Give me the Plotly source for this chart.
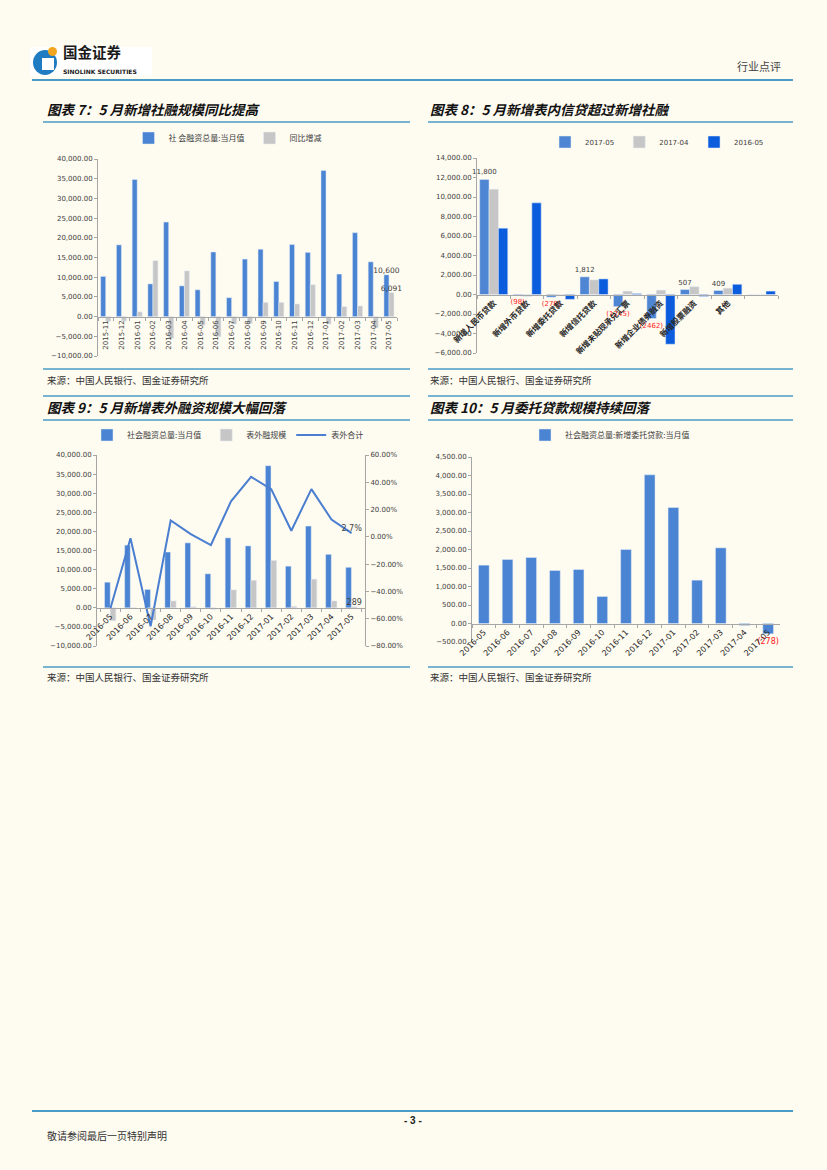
import plotly.graph_objects as go

W, H = 827, 1170


def fx(px):
    return px / W


def fy(py):
    return 1 - py / H


# ---------------- data ----------------
# Chart 7
c7_months = ["2015-11", "2015-12", "2016-01", "2016-02", "2016-03", "2016-04", "2016-05",
             "2016-06", "2016-07", "2016-08", "2016-09", "2016-10", "2016-11", "2016-12",
             "2017-01", "2017-02", "2017-03", "2017-04", "2017-05"]
c7_tsf = [10200, 18200, 34800, 8300, 24000, 7800, 6800, 16400, 4800, 14600, 17100, 8900,
          18300, 16300, 37100, 10800, 21300, 13900, 10600]
c7_yoy = [-1200, -1100, 1200, 14200, -5500, 11600, -2200, -5100, -1900, -1700, 3600, 3600,
          3200, 8100, -1900, 2500, 2700, -2800, 6091]
c7_names = ["社 会融资总量:当月值", "同比增减"]

# Chart 8
c8_cats = ["新增人民币贷款", "新增外币贷款", "新增委托贷款", "新增信托贷款", "新增未贴现承兑汇票",
           "新增企业债券融资", "新增股票融资", "其他", "其他项"]
c8_ticktext = ["新增人民币贷款", "新增外币贷款", "新增委托贷款", "新增信托贷款", "新增未贴现承兑汇票",
               "新增企业债券融资", "新增股票融资", "其他", ""]
c8_series = ["2017-05", "2017-04", "2016-05"]
c8_2017_05 = [11800, -98, -278, 1812, -1245, -2462, 507, 409, 0]
c8_2017_04 = [10800, -200, -54, 1500, 350, 450, 800, 650, 0]
c8_2016_05 = [6800, 9400, -500, 1600, 100, -5100, -200, 1050, 350]
c8_labels = ["11,800", "(98)", "(278)", "1,812", "(1245)", "(2462)", "507", "409", ""]

# Chart 9
c9_months = ["2016-05", "2016-06", "2016-07", "2016-08", "2016-09", "2016-10", "2016-11",
             "2016-12", "2017-01", "2017-02", "2017-03", "2017-04", "2017-05"]
c9_tsf = [6700, 16400, 4800, 14600, 17000, 8900, 18300, 16200, 37200, 10900, 21400, 14000, 10600]
c9_offbs = [-3400, -100, -3200, 1800, 260, -400, 4700, 7200, 12400, 400, 7500, 1800, 289]
c9_ratio = [-0.525, -0.01, -0.655, 0.12, 0.02, -0.06, 0.26, 0.44, 0.35, 0.045, 0.35, 0.127, 0.027]
c9_names = ["社会融资总量:当月值", "表外融规模", "表外合计"]

# Chart 10
c10_months = c9_months
c10_entrusted = [1577, 1730, 1784, 1432, 1459, 730, 2000, 4018, 3135, 1171, 2045, -54, -278]
c10_name = "社会融资总量:新增委托贷款:当月值"

# ---------------- styles ----------------
BG = "#FEFBF0"
BLUE = "#4A84D2"
GRAY = "#C6C6C6"
DARKBLUE = "#0B5DDE"
LINEBLUE = "#4A9CC8"
AXIS = "#A6A6A6"
TICKFONT = dict(family="DejaVu Sans, Noto Sans CJK SC", size=7, color="#404040")
CJK = "Noto Sans CJK SC"

fig = go.Figure()

# ---- Chart 7 ----
fig.add_trace(go.Bar(x=c7_months, y=c7_tsf, name=c7_names[0], marker_color=BLUE,
                     width=0.32, offset=-0.33, xaxis="x", yaxis="y", legend="legend",
                     text=[""] * (len(c7_tsf) - 1) + [f"{c7_tsf[-1]:,}"], textposition="outside",
                     constraintext="none",
                     textfont=dict(family="DejaVu Sans", size=7.5, color="#404040"),
                     cliponaxis=False))
fig.add_trace(go.Bar(x=c7_months, y=c7_yoy, name=c7_names[1], marker_color=GRAY,
                     width=0.32, offset=-0.01, xaxis="x", yaxis="y", legend="legend",
                     text=[""] * (len(c7_yoy) - 1) + [f"{c7_yoy[-1]:,}"], textposition="outside",
                     constraintext="none",
                     textfont=dict(family="DejaVu Sans", size=7.5, color="#404040"),
                     cliponaxis=False))

# ---- Chart 8 ----
c8_label_colors = ["#FF2020" if v < 0 else "#404040" for v in c8_2017_05]
fig.add_trace(go.Bar(x=c8_cats, y=c8_2017_05, name=c8_series[0], marker_color="#4F86D4",
                     width=0.28, offset=-0.42, xaxis="x2", yaxis="y2", legend="legend2",
                     text=c8_labels, textposition="outside", constraintext="none",
                     textfont=dict(family="DejaVu Sans", size=7, color=c8_label_colors),
                     cliponaxis=False))
fig.add_trace(go.Bar(x=c8_cats, y=c8_2017_04, name=c8_series[1], marker_color=GRAY,
                     width=0.28, offset=-0.14, xaxis="x2", yaxis="y2", legend="legend2"))
fig.add_trace(go.Bar(x=c8_cats, y=c8_2016_05, name=c8_series[2], marker_color=DARKBLUE,
                     width=0.28, offset=0.14, xaxis="x2", yaxis="y2", legend="legend2"))

# ---- Chart 9 ----
fig.add_trace(go.Bar(x=c9_months, y=c9_tsf, name=c9_names[0], marker_color=BLUE,
                     width=0.28, offset=-0.29, xaxis="x3", yaxis="y3", legend="legend3"))
fig.add_trace(go.Bar(x=c9_months, y=c9_offbs, name=c9_names[1], marker_color=GRAY,
                     width=0.28, offset=-0.01, xaxis="x3", yaxis="y3", legend="legend3",
                     text=[""] * (len(c9_offbs) - 1) + [f"{c9_offbs[-1]}"], textposition="outside",
                     constraintext="none",
                     textfont=dict(family="DejaVu Sans", size=8, color="#404040"),
                     cliponaxis=False))
fig.add_trace(go.Scatter(x=c9_months, y=c9_ratio, name=c9_names[2], mode="lines+text",
                         line=dict(color="#4A7ED0", width=2), xaxis="x3", yaxis="y4",
                         legend="legend3",
                         text=[""] * (len(c9_ratio) - 1) + [f"{c9_ratio[-1] * 100:.1f}%"],
                         textposition="top center",
                         textfont=dict(family="DejaVu Sans", size=8, color="#404040"),
                         cliponaxis=False))

# ---- Chart 10 ----
fig.add_trace(go.Bar(x=c10_months, y=c10_entrusted, name=c10_name, marker_color=BLUE,
                     width=0.45, xaxis="x4", yaxis="y5", legend="legend4",
                     text=[""] * (len(c10_entrusted) - 1) + [f"({-c10_entrusted[-1]})"],
                     textposition="outside", constraintext="none",
                     textfont=dict(family="DejaVu Sans", size=8, color="#FF2020"),
                     cliponaxis=False))


def yax(dom_px, rng, dtick, anchor, fmt=",.2f", **kw):
    d = dict(domain=[fy(dom_px[1]), fy(dom_px[0])], range=rng, dtick=dtick, tickformat=fmt,
             showgrid=False, zeroline=False, showline=True, linecolor=AXIS, linewidth=1,
             ticks="outside", ticklen=3, tickcolor=AXIS, tickfont=TICKFONT, anchor=anchor,
             fixedrange=True, automargin=False)
    d.update(kw)
    return d


def xax(dom_px, zero_px, angle, font, **kw):
    d = dict(domain=[fx(dom_px[0]), fx(dom_px[1])], type="category", anchor="free",
             position=fy(zero_px), showgrid=False, zeroline=False, showline=True,
             linecolor=AXIS, linewidth=1, ticks="outside", ticklen=3, tickcolor=AXIS,
             tickson="boundaries", tickangle=angle, tickfont=font, fixedrange=True,
             automargin=False)
    d.update(kw)
    return d


# chart areas (pixels)
c7x, c7y = (98, 397), (159, 356)
c8x, c8y = (477, 778), (158, 353)
c9x, c9y = (97, 365), (455, 646)
c10x, c10y = (472, 780), (457, 642)


def zero_px(ypx, rng):
    lo, hi = rng
    return ypx[1] - (ypx[1] - ypx[0]) * (0 - lo) / (hi - lo)


r7, r8, r9, r10 = [-10000, 40000], [-6000, 14000], [-10000, 40000], [-500, 4500]

fig.update_layout(
    xaxis=xax(c7x, zero_px(c7y, r7), -90, dict(family="DejaVu Sans", size=7, color="#404040")),
    yaxis=yax(c7y, r7, 5000, "x"),
    xaxis2=xax(c8x, zero_px(c8y, r8), -45, dict(family=CJK, size=8, color="#262626", weight=700),
               tickmode="array", tickvals=c8_cats, ticktext=c8_ticktext),
    yaxis2=yax(c8y, r8, 2000, "x2"),
    xaxis3=xax(c9x, zero_px(c9y, r9), -45, dict(family="DejaVu Sans", size=8, color="#262626")),
    yaxis3=yax(c9y, r9, 5000, "x3"),
    yaxis4=yax(c9y, [-0.8, 0.6], 0.2, "x3", fmt=".2%", overlaying="y3", side="right"),
    xaxis4=xax(c10x, zero_px(c10y, r10), -45, dict(family="DejaVu Sans", size=8, color="#262626")),
    yaxis5=yax(c10y, r10, 500, "x4"),
)

legend_common = dict(orientation="h", xanchor="center", yanchor="middle", bgcolor="rgba(0,0,0,0)",
                     itemwidth=30, tracegroupgap=0, itemclick=False, itemdoubleclick=False)
fig.update_layout(
    legend=dict(x=fx(228), y=fy(138), font=dict(family=CJK, size=8, color="#404040"), **legend_common),
    legend2=dict(x=fx(657), y=fy(142), font=dict(family="DejaVu Sans", size=7, color="#404040"), **legend_common),
    legend3=dict(x=fx(228), y=fy(435), font=dict(family=CJK, size=8, color="#404040"), **legend_common),
    legend4=dict(x=fx(610), y=fy(435), font=dict(family=CJK, size=8, color="#404040"), **legend_common),
)

# ---------------- page decoration ----------------
shapes = []
annotations = []


def hline(y, x0, x1, color=LINEBLUE, width=1.5):
    shapes.append(dict(type="line", xref="paper", yref="paper", x0=fx(x0), x1=fx(x1),
                       y0=fy(y), y1=fy(y), line=dict(color=color, width=width)))


def text(t, x, y, size, color="#333333", xanchor="left", family=CJK, **fontkw):
    f = dict(family=family, size=size, color=color)
    f.update(fontkw)
    annotations.append(dict(text=t, x=fx(x), y=fy(y), xref="paper", yref="paper",
                            xanchor=xanchor, yanchor="middle", showarrow=False, font=f))


# header
shapes.append(dict(type="rect", xref="paper", yref="paper", x0=fx(30), x1=fx(152), y0=fy(76), y1=fy(47),
                   fillcolor="white", line=dict(width=0), layer="below"))
shapes.append(dict(type="circle", xref="paper", yref="paper", x0=fx(33), x1=fx(57), y0=fy(75), y1=fy(50),
                   fillcolor="#1F7BC2", line=dict(width=0)))
shapes.append(dict(type="rect", xref="paper", yref="paper", x0=fx(42), x1=fx(54), y0=fy(70), y1=fy(58),
                   fillcolor="white", line=dict(width=0)))
shapes.append(dict(type="circle", xref="paper", yref="paper", x0=fx(48), x1=fx(57), y0=fy(56), y1=fy(47),
                   fillcolor="#F2A51F", line=dict(width=0)))
annotations.append(dict(text="<b>国金证券</b>", x=fx(62), y=fy(63), xref="paper", yref="paper",
                        xanchor="left", yanchor="bottom", showarrow=False, borderpad=0,
                        font=dict(family=CJK, size=14.5, color="#1a1a1a")))
annotations.append(dict(text="<b>SINOLINK SECURITIES</b>", x=fx(62), y=fy(67), xref="paper", yref="paper",
                        xanchor="left", yanchor="top", showarrow=False, borderpad=0,
                        font=dict(family="DejaVu Sans", size=6, color="#1a1a1a")))
text("行业点评", 783, 66, 11, color="#444444", xanchor="right")
hline(80, 32, 793, width=2)

# titles
tfont = dict(weight=700, style="italic")
text("图表 7：5 月新增社融规模同比提高", 45, 109, 13.5, color="#111111", **tfont)
text("图表 8：5 月新增表内信贷超过新增社融", 428, 109, 13.5, color="#111111", **tfont)
hline(122, 43, 410)
hline(122, 428, 793)
hline(369, 43, 410)
hline(369, 428, 793)
text("来源：中国人民银行、国金证券研究所", 45, 380, 9.5, color="#333333")
text("来源：中国人民银行、国金证券研究所", 428, 380, 9.5, color="#333333")

hline(396, 43, 410)
hline(396, 428, 793)
text("图表 9：5 月新增表外融资规模大幅回落", 45, 407, 13.5, color="#111111", **tfont)
text("图表 10：5 月委托贷款规模持续回落", 428, 407, 13.5, color="#111111", **tfont)
hline(420, 43, 410)
hline(420, 428, 793)
hline(667, 43, 410)
hline(667, 428, 793)
text("来源：中国人民银行、国金证券研究所", 45, 677, 9.5, color="#333333")
text("来源：中国人民银行、国金证券研究所", 428, 677, 9.5, color="#333333")

# footer
hline(1111, 32, 793, width=2)
text("<b>- 3 -</b>", 413, 1120, 10, color="#222222", xanchor="center", family="Liberation Sans")
text("敬请参阅最后一页特别声明", 45, 1135, 10, color="#333333")

fig.update_layout(
    width=W, height=H, margin=dict(l=0, r=0, t=0, b=0, pad=0, autoexpand=False),
    paper_bgcolor=BG, plot_bgcolor="rgba(0,0,0,0)",
    barmode="overlay", showlegend=True,
    shapes=shapes, annotations=annotations,
    font=dict(family=CJK, color="#333333"),
)

fig.write_html(
    "out.html",
    config={"displayModeBar": False, "staticPlot": True},
    post_script=("document.body.style.margin='0';document.body.style.padding='0';"
                 "document.body.style.background='" + BG + "';"
                 "document.documentElement.style.overflow='hidden';"),
)
